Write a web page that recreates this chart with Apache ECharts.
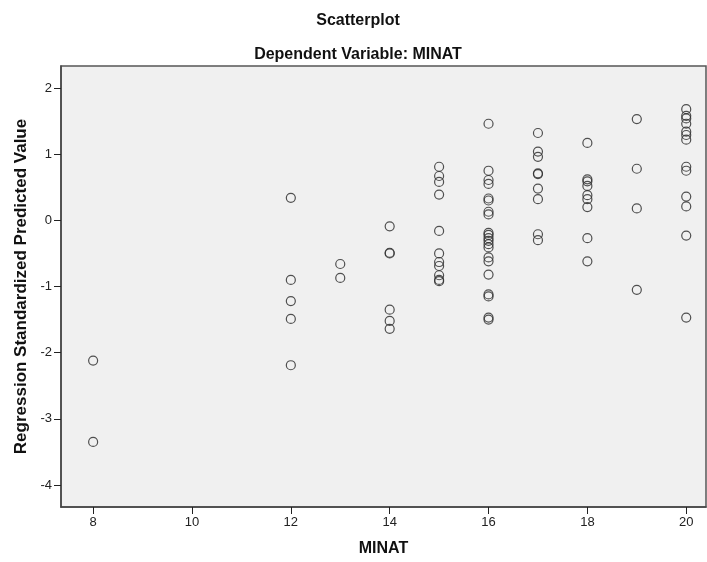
<!DOCTYPE html>
<html>
<head>
<meta charset="utf-8">
<script src="https://cdn.jsdelivr.net/npm/echarts@6/dist/echarts.min.js"></script>
<style>
  html, body { margin: 0; padding: 0; background: #ffffff; }
  #chart { width: 707px; height: 562px; }
</style>
</head>
<body>
<div id="chart"></div>
<script>
// predicted values (standardized), grouped by MINAT
const minat8 = [-2.12, -3.35];
const minat12 = [0.34, -0.90, -1.22, -1.49, -2.19];
const minat13 = [-0.66, -0.87];
const minat14 = [-0.09, -0.49, -0.50, -1.35, -1.52, -1.64];
const minat15 = [0.81, 0.67, 0.58, 0.39, -0.16, -0.50, -0.63, -0.69, -0.83, -0.90, -0.92];
const minat16 = [1.46, 0.75, 0.61, 0.55, 0.33, 0.30, 0.13, 0.09, -0.19, -0.22, -0.27, -0.31,
  -0.36, -0.41, -0.56, -0.62, -0.82, -1.12, -1.15, -1.47, -1.50];
const minat17 = [1.32, 1.04, 0.96, 0.71, 0.70, 0.48, 0.32, -0.21, -0.30];
const minat18 = [1.17, 0.62, 0.59, 0.52, 0.38, 0.32, 0.20, -0.27, -0.62];
const minat19 = [1.53, 0.78, 0.18, -1.05];
const minat20 = [1.68, 1.58, 1.54, 1.46, 1.34, 1.29, 1.22, 0.81, 0.75, 0.36, 0.21, -0.23, -1.47];

const xTicks = [8, 10, 12, 14, 16, 18, 20];
const yTicks = [-4, -3, -2, -1, 0, 1, 2];

const groups = [
  [8, minat8], [12, minat12], [13, minat13], [14, minat14], [15, minat15],
  [16, minat16], [17, minat17], [18, minat18], [19, minat19], [20, minat20]
];
const points = [];
groups.forEach(([x, ys]) => ys.forEach((y) => points.push([x, y])));

const chart = echarts.init(document.getElementById('chart'), null, { renderer: 'canvas' });
const tickFont = { fontFamily: 'Liberation Sans Narrow, Liberation Sans', fontSize: 13, color: '#222222' };
const boldFont = { fontFamily: 'Liberation Sans', fontWeight: 'bold', color: '#111111' };

chart.setOption({
  animation: false,
  title: [
    { text: 'Scatterplot', left: 353, textAlign: 'center', top: 8, textStyle: { ...boldFont, fontSize: 16 } },
    { text: 'Dependent Variable: MINAT', left: 353, textAlign: 'center', top: 42, textStyle: { ...boldFont, fontSize: 16 } }
  ],
  grid: {
    left: 61, top: 66, right: 1, bottom: 55,
    show: true, backgroundColor: '#f0f0f0', borderColor: '#555555', borderWidth: 1.5
  },
  xAxis: {
    type: 'value', min: 7.35, max: 20.4,
    name: 'MINAT', nameLocation: 'middle', nameGap: 34,
    nameTextStyle: { ...boldFont, fontSize: 16 },
    axisLine: { show: true, onZero: false, lineStyle: { color: '#444444', width: 1.5 } },
    axisTick: { show: true, length: 7, customValues: xTicks, lineStyle: { color: '#222222' } },
    axisLabel: { customValues: xTicks, margin: 9, ...tickFont },
    splitLine: { show: false }
  },
  yAxis: {
    type: 'value', min: -4.333, max: 2.333,
    name: 'Regression Standardized Predicted Value', nameLocation: 'middle', nameGap: 31, nameRotate: 90,
    nameTextStyle: { ...boldFont, fontSize: 17 },
    axisLine: { show: true, onZero: false, lineStyle: { color: '#444444', width: 1.5 } },
    axisTick: { show: true, length: 7, customValues: yTicks, lineStyle: { color: '#222222' } },
    axisLabel: { customValues: yTicks, margin: 9, ...tickFont },
    splitLine: { show: false }
  },
  series: [{
    type: 'scatter',
    data: points,
    symbol: 'circle',
    symbolSize: 9,
    itemStyle: { color: 'rgba(0,0,0,0)', borderColor: '#333333', borderWidth: 1.2, opacity: 0.85 }
  }]
});
</script>
</body>
</html>
